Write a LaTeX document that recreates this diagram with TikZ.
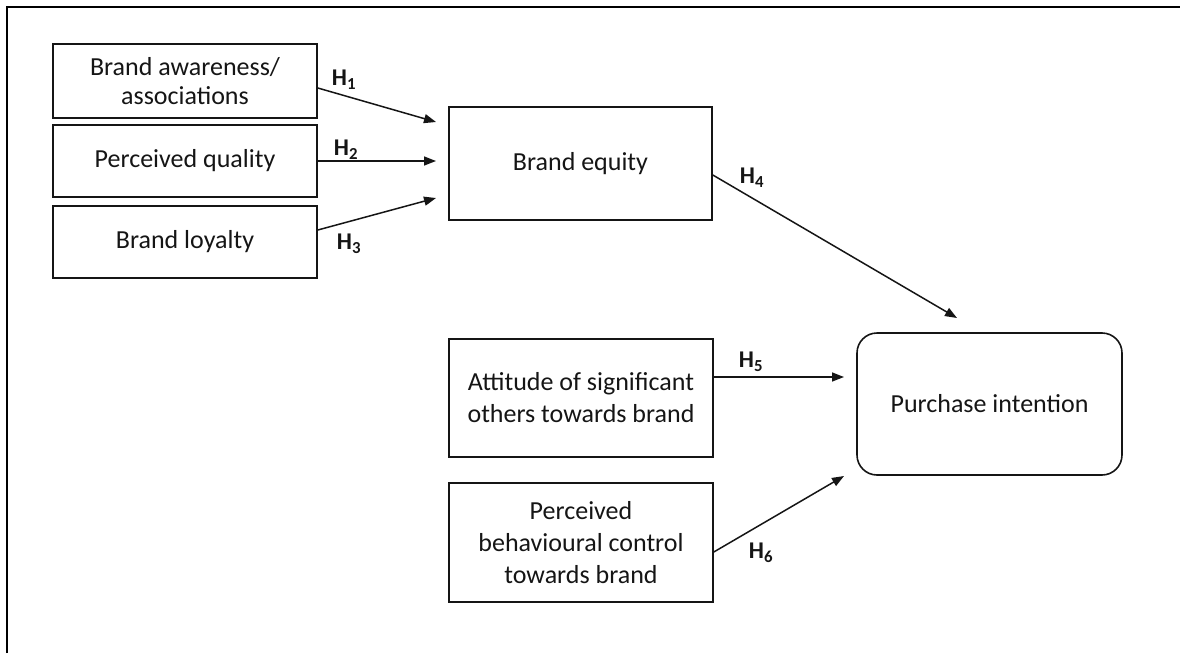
\documentclass[tikz,border=0pt]{standalone}
\usepackage{fontspec}
\setmainfont{Carlito}
\usetikzlibrary{arrows.meta}
\definecolor{ink}{HTML}{151515}
\tikzset{
  box/.style={draw=ink, line width=1.6pt, align=center, text=ink, inner sep=0pt,
    font=\fontsize{26}{32}\selectfont},
  rbox/.style={box, rounded corners=20pt},
  arr/.style={draw=ink, line width=1.5pt, -{Triangle[length=12pt,width=9pt]}},
  hyp/.style={text=ink, inner sep=0pt, font=\fontsize{24}{26}\selectfont\bfseries},
  frame/.style={draw=black, line width=2.2pt}
}
\begin{document}
\begin{tikzpicture}[x=1pt,y=-1pt]
\useasboundingbox (0,0) rectangle (1180,653);
\draw[frame] (7,653) -- (7,7) -- (1180,7);
% left column
\node[box, minimum width=264pt, minimum height=74pt, font=\fontsize{26}{29}\selectfont] (b1) at (185,81) {Brand awareness/\\associations};
\node[box, minimum width=264pt, minimum height=72pt] (b2) at (185,161) {Perceived quality};
\node[box, minimum width=264pt, minimum height=72pt] (b3) at (185,242) {Brand loyalty};
% middle
\node[box, minimum width=263pt, minimum height=113pt] (be) at (580.5,163.5) {Brand equity};
\node[box, minimum width=264pt, minimum height=118pt] (ba) at (581,398) {Attitude of significant\\others towards brand};
\node[box, minimum width=264pt, minimum height=119pt] (bp) at (581,542.5) {Perceived\\behavioural control\\towards brand};
% right
\node[rbox, minimum width=265pt, minimum height=142pt] (pi) at (989.5,404) {Purchase intention};
% arrow end points
\coordinate (e1) at (436,122);
\coordinate (e2) at (436,161);
\coordinate (e3) at (436,198);
\coordinate (e4) at (957,318);
\coordinate (e5) at (844,377);
\coordinate (e6) at (844,476);
\draw[arr] ([yshift=-7pt]b1.east) -- (e1);
\draw[arr] (b2.east) -- (e2);
\draw[arr] ([yshift=12pt]b3.east) -- (e3);
\draw[arr] ([yshift=-11.5pt]be.east) -- (e4);
\draw[arr] ([yshift=21pt]ba.east) -- (e5);
\draw[arr] ([yshift=-9.5pt]bp.east) -- (e6);
% labels
\node[hyp] (h1) at (344,80) {H\textsubscript{1}};
\node[hyp] (h2) at (346,150) {H\textsubscript{2}};
\node[hyp] (h3) at (349,244) {H\textsubscript{3}};
\node[hyp] (h4) at (752,178) {H\textsubscript{4}};
\node[hyp] (h5) at (751,362) {H\textsubscript{5}};
\node[hyp] (h6) at (761,553) {H\textsubscript{6}};
\end{tikzpicture}
\end{document}
